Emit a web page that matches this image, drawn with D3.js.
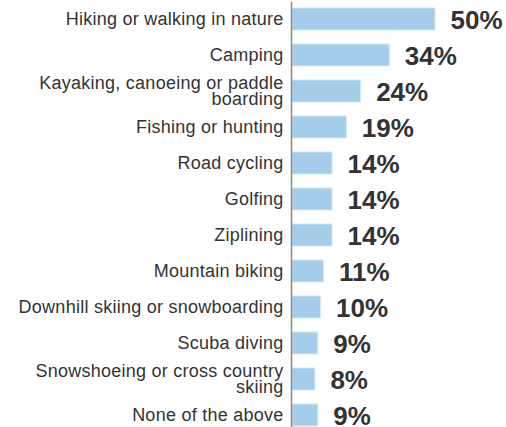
<!DOCTYPE html>
<html>
<head>
<meta charset="utf-8">
<script src="https://cdn.jsdelivr.net/npm/d3@7"></script>
<style>
  html, body { margin: 0; padding: 0; background: #fff; }
  svg { display: block; }
</style>
</head>
<body>
<svg id="chart" width="506" height="427"></svg>
<script>
// Activities and share of respondents (%)
const categories = [
  ["Hiking or walking in nature"],
  ["Camping"],
  ["Kayaking, canoeing or paddle", "boarding"],
  ["Fishing or hunting"],
  ["Road cycling"],
  ["Golfing"],
  ["Ziplining"],
  ["Mountain biking"],
  ["Downhill skiing or snowboarding"],
  ["Scuba diving"],
  ["Snowshoeing or cross country", "skiing"],
  ["None of the above"]
];
const values = [50, 34, 24, 19, 14, 14, 14, 11, 10, 9, 8, 9];

const svg = d3.select("#chart");
const margin = { top: 2, left: 291.5 };
const step = 36;
const padInner = 14 / 36;
const bandTop = 8 - margin.top;
const n = values.length;

const x = d3.scaleLinear().domain([0, 50]).range([0, 143]);
const y = d3.scaleBand()
  .domain(d3.range(n))
  .range([bandTop, bandTop + step * (n - padInner)])
  .paddingInner(padInner)
  .paddingOuter(0);

const g = svg.append("g").attr("transform", `translate(${margin.left},${margin.top})`);

// bars
g.selectAll("rect.bar")
  .data(values)
  .join("rect")
  .attr("class", "bar")
  .attr("x", 0.5)
  .attr("y", (d, i) => y(i))
  .attr("width", d => x(d))
  .attr("height", y.bandwidth())
  .attr("fill", "#a3cdeb")
  .attr("stroke", "#d6e9f6")
  .attr("stroke-width", 1);

// value labels
g.selectAll("text.value")
  .data(values)
  .join("text")
  .attr("class", "value")
  .attr("x", d => x(d) + 16)
  .attr("y", (d, i) => y(i) + y.bandwidth() / 2 + 9.5)
  .attr("font-family", "'Liberation Sans', Arial, sans-serif")
  .attr("font-weight", "bold")
  .attr("font-size", 26)
  .attr("fill", "#333")
  .text(d => d + "%");

// category labels
const lineH = 16;
g.selectAll("text.cat")
  .data(categories)
  .join("text")
  .attr("class", "cat")
  .attr("text-anchor", "end")
  .attr("font-family", "'Liberation Sans', Arial, sans-serif")
  .attr("font-size", 18)
  .attr("letter-spacing", 0.25)
  .attr("fill", "#333")
  .each(function (lines, i) {
    const t = d3.select(this);
    const cy = y(i) + y.bandwidth() / 2;
    const first = cy + 6 - (lines.length - 1) * lineH / 2;
    lines.forEach((ln, k) => {
      t.append("tspan").attr("x", -8).attr("y", first + k * lineH).text(ln);
    });
  });

// vertical axis line
svg.append("line")
  .attr("x1", margin.left).attr("x2", margin.left)
  .attr("y1", margin.top).attr("y2", 427)
  .attr("stroke", "#888")
  .attr("stroke-width", 1.5);
</script>
</body>
</html>
